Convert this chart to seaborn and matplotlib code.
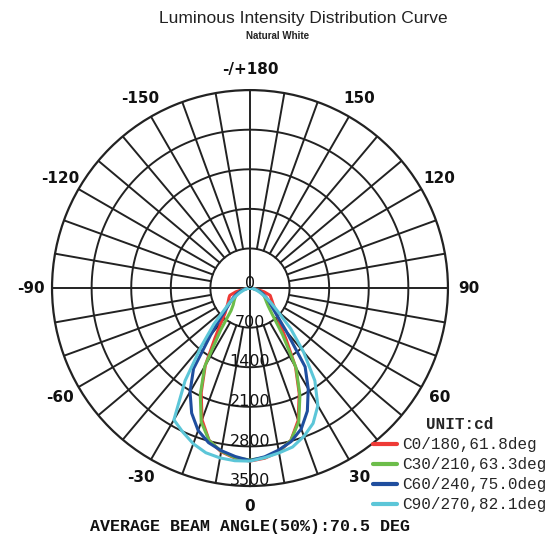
import numpy as np
import pandas as pd
import matplotlib
matplotlib.use("Agg")
import matplotlib.pyplot as plt
from matplotlib.font_manager import FontProperties
from matplotlib.lines import Line2D
import seaborn as sns

# --- DATA (cd, angles from nadir, 0..90 step 5; left = negative side) ---
ANGLES = [0, 5, 10, 15, 20, 25, 30, 35, 40, 45, 50, 55, 60, 65, 70, 75, 80, 85, 90]

C0_LEFT = [3060, 3020, 2940, 2790, 2480, 2040, 1580, 1080, 790, 620, 540, 480, 440, 410, 380, 260, 110, 30, 0]
C0_RIGHT = [3060, 3020, 2940, 2790, 2490, 2060, 1610, 1120, 820, 680, 580, 500, 450, 410, 380, 260, 110, 30, 0]
C30_LEFT = [3040, 3010, 2930, 2790, 2520, 2080, 1600, 900, 520, 420, 370, 330, 290, 250, 200, 140, 80, 30, 0]
C30_RIGHT = [3040, 3010, 2930, 2790, 2520, 2090, 1630, 1000, 620, 460, 380, 330, 290, 250, 200, 140, 80, 30, 0]
C60_LEFT = [3050, 2990, 2920, 2830, 2680, 2440, 2120, 1740, 1080, 720, 520, 420, 340, 270, 200, 130, 70, 25, 0]
C60_RIGHT = [3050, 2995, 2910, 2810, 2650, 2400, 2060, 1700, 1000, 660, 500, 410, 330, 260, 200, 130, 70, 25, 0]
C90_LEFT = [3060, 3065, 3050, 3015, 2930, 2810, 2690, 2000, 1330, 900, 580, 430, 300, 200, 130, 80, 40, 15, 0]
C90_RIGHT = [3060, 3010, 2960, 2910, 2790, 2640, 2400, 2000, 1470, 1020, 640, 450, 310, 210, 140, 85, 40, 15, 0]

PLANES = ["C0/180,61.8deg", "C30/210,63.3deg", "C60/240,75.0deg", "C90/270,82.1deg"]
COLORS = ["#ee3a36", "#6cbd4a", "#1f4e9e", "#5cc6d8"]

RINGS = [700, 1400, 2100, 2800, 3500]
ANGLE_TICKS = [0, 30, 60, 90, 120, 150, 180, -150, -120, -90, -60, -30]
ANGLE_LABELS = ["0", "30", "60", "90", "120", "150", "-/+180", "-150", "-120", "-90", "-60", "-30"]


def build_frame():
    series = [(C0_LEFT, C0_RIGHT), (C30_LEFT, C30_RIGHT),
              (C60_LEFT, C60_RIGHT), (C90_LEFT, C90_RIGHT)]
    rows = []
    for name, (left, right) in zip(PLANES, series):
        ang = [-a for a in ANGLES[::-1]] + ANGLES[1:]
        val = left[::-1] + right[1:]
        for a, v in zip(ang, val):
            rows.append({"plane": name, "theta": np.deg2rad(a), "cd": v})
    return pd.DataFrame(rows)


sns.set_style("white")
df = build_frame()

fig = plt.figure(figsize=(5.57, 5.35), dpi=100)
ax = fig.add_axes([0.0933, 0.0916, 0.711, 0.740], projection="polar")
ax.set_theta_zero_location("S")
ax.set_theta_direction(1)
ax.set_ylim(0, RINGS[-1])
ax.grid(False)
ax.set_xticks([])
ax.set_yticks([])
ax.spines["polar"].set_linewidth(1.6)
ax.spines["polar"].set_color("#222222")

# grid: rings and spokes (spokes start at first ring, main axes go through centre)
grid_kw = dict(color="#222222", lw=1.4, zorder=1)
t = np.linspace(0, 2 * np.pi, 361)
for r in RINGS[:-1]:
    ax.plot(t, np.full_like(t, r), **grid_kw)
for d in range(0, 360, 10):
    r0 = 0 if d % 90 == 0 else RINGS[0]
    ax.plot([np.deg2rad(d)] * 2, [r0, RINGS[-1]], **grid_kw)

# curves
sns.lineplot(data=df, x="theta", y="cd", hue="plane", hue_order=PLANES,
             palette=COLORS, sort=False, estimator=None, lw=2.2,
             legend=False, ax=ax, zorder=3)
ax.set_xlabel("")
ax.set_ylabel("")

# radial labels along nadir (baseline sitting on each ring)
for r in [0] + RINGS:
    ax.text(0, max(r - 15, 0), str(r), ha="center", va="baseline", fontsize=11.5,
            family="DejaVu Sans", color="#111111", zorder=4, clip_on=False)

# angle labels
for a, lab in zip(ANGLE_TICKS, ANGLE_LABELS):
    ax.text(np.deg2rad(a), 3870, lab, ha="center", va="center",
            fontsize=11, weight="bold", family="DejaVu Sans",
            color="#111111", clip_on=False)

fig.text(303 / 557, 1 - 18 / 535, "Luminous Intensity Distribution Curve",
         ha="center", va="center", fontsize=12.5, family="Liberation Sans", color="#222222")
fig.text(278 / 557, 1 - 36 / 535, "Natural White", ha="center", va="center",
         fontsize=7, weight="bold", family="Liberation Sans", color="#222222")

handles = [Line2D([], [], color=c, lw=3) for c in COLORS]
fig.legend(handles, PLANES, title="UNIT:cd", loc="upper left",
           bbox_to_anchor=(373 / 557, 1 - 417 / 535), frameon=False,
           prop=FontProperties(family="Liberation Mono", size=11.5),
           title_fontproperties=FontProperties(family="Liberation Mono", weight="bold", size=11.5),
           handlelength=1.5, handletextpad=0.3, labelspacing=0.32,
           borderpad=0, borderaxespad=0)

fig.text(250 / 557, 1 - 527 / 535, "AVERAGE BEAM ANGLE(50%):70.5 DEG",
         ha="center", va="center", fontsize=12, weight="bold",
         family="Liberation Mono", color="#111111")

fig.savefig("out.png", dpi=100)
